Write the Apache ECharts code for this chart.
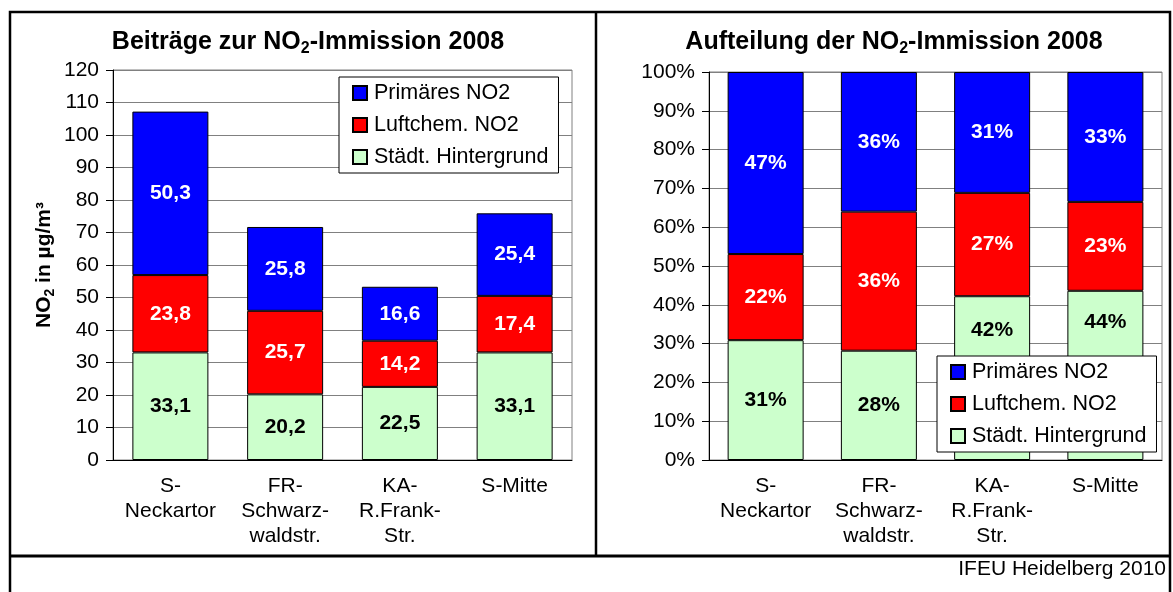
<!DOCTYPE html>
<html>
<head>
<meta charset="utf-8">
<script src="https://cdn.jsdelivr.net/npm/echarts@6/dist/echarts.min.js"></script>
<style>
  html, body {margin: 0; padding: 0; background: #fff;}
  #chart {width: 1173px; height: 592px;}
</style>
</head>
<body>
<div id="chart"></div>
<script>
const categories = ['S-\nNeckartor', 'FR-\nSchwarz-\nwaldstr.', 'KA-\nR.Frank-\nStr.', 'S-Mitte'];
const seriesNames = ['Primäres NO2', 'Luftchem. NO2', 'Städt. Hintergrund'];

// absolute contributions in µg/m³
const hintergrund = [33.1, 20.2, 22.5, 33.1];
const luftchem = [23.8, 25.7, 14.2, 17.4];
const primaer = [50.3, 25.8, 16.6, 25.4];

// shares in %
const hintergrundPct = [30.88, 28.17, 42.21, 43.61];
const luftchemPct = [22.20, 35.84, 26.64, 22.92];
const primaerPct = [46.92, 35.98, 31.14, 33.47];

const absTicks = [0, 120, 10];
const pctTicks = [0, 100, 10];

const font = "'Liberation Sans', Arial, sans-serif";
const colors = {primaer: '#0000FF', luftchem: '#FF0000', hintergrund: '#CCFFCC'};

// labels moved up by hand in the original so the legend does not hide them
const pctGreenLabelShift = [0, 0, -48, -53];

const chart = echarts.init(document.getElementById('chart'));

const makeAxes = (idx, ticks, fmt) => ({
  x: {
    type: 'category',
    gridIndex: idx,
    data: categories,
    axisLine: {lineStyle: {color: '#000', width: 1}},
    axisTick: {length: 7, lineStyle: {color: '#000'}},
    axisLabel: {color: '#000', fontFamily: font, fontSize: 21, lineHeight: 25, margin: 14, interval: 0}
  },
  y: {
    type: 'value',
    gridIndex: idx,
    min: ticks[0], max: ticks[1], interval: ticks[2],
    axisLine: {show: true, lineStyle: {color: '#000', width: 1}},
    axisTick: {show: true, length: 7, lineStyle: {color: '#000'}},
    axisLabel: {color: '#000', fontFamily: font, fontSize: 21, margin: 14, formatter: fmt},
    splitLine: {lineStyle: {color: '#808080', width: 1}}
  }
});

const leftAxes = makeAxes(0, absTicks, v => String(v));
const rightAxes = makeAxes(1, pctTicks, v => v + '%');
leftAxes.y.name = '{b|NO}{s|2}{b| in µg/m³}';
leftAxes.y.nameLocation = 'middle';
leftAxes.y.nameRotate = 90;
leftAxes.y.nameGap = 56;
leftAxes.y.nameTextStyle = {
  rich: {
    b: {fontFamily: font, fontSize: 21, fontWeight: 'bold', color: '#000', lineHeight: 26},
    s: {fontFamily: font, fontSize: 14, fontWeight: 'bold', color: '#000', lineHeight: 12, verticalAlign: 'bottom'}
  }
};

const makeBar = (name, data, color, xi, labelColor, fmt, shifts) => ({
  name,
  type: 'bar',
  stack: 'g' + xi,
  xAxisIndex: xi,
  yAxisIndex: xi,
  data: shifts ? data.map((v, i) => ({value: v, label: {offset: [0, shifts[i]]}})) : data,
  barWidth: 76,
  itemStyle: {color, borderColor: '#000', borderWidth: 1},
  label: {
    show: true,
    position: 'inside',
    color: labelColor,
    fontFamily: font,
    fontSize: 21,
    fontWeight: 'bold',
    formatter: p => fmt(p.value)
  }
});

const fmtAbs = v => v.toFixed(1).replace('.', ',');
const fmtPct = v => Math.round(v) + '%';

const titleRich = {
  b: {fontFamily: font, fontSize: 25, fontWeight: 'bold', color: '#000', lineHeight: 30},
  s: {fontFamily: font, fontSize: 16, fontWeight: 'bold', color: '#000', lineHeight: 14, verticalAlign: 'bottom'}
};

const legendBase = {
  orient: 'vertical',
  data: seriesNames,
  icon: 'rect',
  itemWidth: 14,
  itemHeight: 14,
  itemGap: 10,
  padding: [5, 10, 5, 13],
  backgroundColor: '#fff',
  borderColor: '#000',
  borderWidth: 1,
  borderRadius: 0,
  textStyle: {fontFamily: font, fontSize: 21.5, color: '#000', lineHeight: 22, padding: [0, 0, 0, 2]}
};

chart.setOption({
  animation: false,
  textStyle: {fontFamily: font},
  title: [
    {text: '{b|Beiträge zur NO}{s|2}{b|-Immission 2008}', left: 303, top: 22, textAlign: 'center',
     textStyle: {rich: titleRich}},
    {text: '{b|Aufteilung der NO}{s|2}{b|-Immission 2008}', left: 889, top: 22, textAlign: 'center',
     textStyle: {rich: titleRich}}
  ],
  legend: [
    {...legendBase, left: 339, top: 77},
    {...legendBase, left: 937, top: 356}
  ],
  grid: [
    {left: 113, top: 70, right: 601, bottom: 132, show: true, borderColor: '#808080', borderWidth: 1},
    {left: 709, top: 72, right: 11, bottom: 132, show: true, borderColor: '#808080', borderWidth: 1}
  ],
  xAxis: [leftAxes.x, rightAxes.x],
  yAxis: [leftAxes.y, rightAxes.y],
  series: [
    makeBar(seriesNames[2], hintergrund, colors.hintergrund, 0, '#000', fmtAbs),
    makeBar(seriesNames[1], luftchem, colors.luftchem, 0, '#fff', fmtAbs),
    makeBar(seriesNames[0], primaer, colors.primaer, 0, '#fff', fmtAbs),
    makeBar(seriesNames[2], hintergrundPct, colors.hintergrund, 1, '#000', fmtPct, pctGreenLabelShift),
    makeBar(seriesNames[1], luftchemPct, colors.luftchem, 1, '#fff', fmtPct),
    makeBar(seriesNames[0], primaerPct, colors.primaer, 1, '#fff', fmtPct)
  ],
  graphic: [
    {type: 'rect', shape: {x: 10, y: 12, width: 1160, height: 600}, style: {fill: null, stroke: '#000', lineWidth: 2.5}, silent: true},
    {type: 'line', shape: {x1: 596, y1: 12, x2: 596, y2: 556}, style: {stroke: '#000', lineWidth: 2.5}, silent: true},
    {type: 'line', shape: {x1: 10, y1: 556, x2: 1170, y2: 556}, style: {stroke: '#000', lineWidth: 3}, silent: true},
    {type: 'text', x: 1166, y: 569, style: {text: 'IFEU Heidelberg 2010', fontFamily: font, fontSize: 21, fill: '#000', textAlign: 'right', textVerticalAlign: 'middle'}, silent: true}
  ]
});
</script>
</body>
</html>
